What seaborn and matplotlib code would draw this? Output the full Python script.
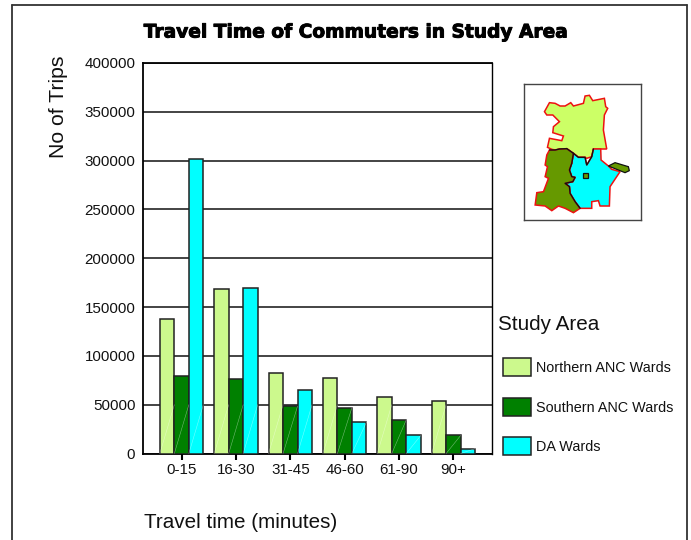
import matplotlib
matplotlib.use("Agg")
import matplotlib.pyplot as plt
import matplotlib.patheffects as pe
from matplotlib.patches import Polygon, Rectangle
import pandas as pd
import seaborn as sns

categories = ["0-15", "16-30", "31-45", "46-60", "61-90", "90+"]
northern = [138000, 168000, 82000, 77500, 58000, 54000]
southern = [79000, 76000, 48500, 47000, 34500, 18500]
da_wards = [302000, 170000, 65000, 32000, 18500, 5000]
series_names = ["Northern ANC Wards", "Southern ANC Wards", "DA Wards"]
series_colors = ["#CCF98D", "#008000", "#00FFFF"]

map_north = [(103,125),(118,98),(135,100),(150,108),(165,108),(182,98),(190,108),(220,100),(225,78),(238,76),(248,92),(283,85),(287,110),(293,115),(283,135),(280,180),(290,237),(250,237),(245,260),(230,265),(225,262),(205,262),(190,250),(170,236),(148,238),(135,240),(125,238),(112,232),(118,205),(155,212),(160,198),(128,188),(130,170),(148,155),(128,135),(110,135)]
map_south = [(110,255),(118,240),(135,240),(148,237),(170,236),(190,250),(185,280),(178,300),(185,320),(195,322),(188,335),(165,340),(178,350),(180,370),(195,395),(210,415),(190,428),(165,415),(145,408),(125,422),(105,408),(75,405),(80,368),(100,365),(115,325),(105,320),(112,290),(105,285)]
map_da = [(190,250),(205,262),(225,262),(230,285),(245,260),(250,237),(272,237),(273,270),(295,288),(305,298),(330,305),(300,350),(298,408),(270,408),(265,392),(245,395),(245,415),(210,415),(195,395),(180,370),(178,350),(165,340),(188,335),(195,322),(185,320),(178,300),(185,280)]
map_east = [(295,288),(315,278),(355,290),(358,302),(345,308),(325,300)]
map_island = [(218,308),(234,308),(234,323),(218,323)]
map_divide = [(118,240),(135,240),(148,237),(170,236),(190,250),(185,280),(178,300),(185,320),(195,322),(188,335),(165,340),(178,350),(180,370),(195,395),(210,415)]
map_divide2 = [(190,250),(205,262),(225,262),(230,285),(245,260),(250,237)]

sns.set_theme(style="white")
plt.rcParams["font.family"] = ["Liberation Sans", "DejaVu Sans"]
W, H = 691, 540
fig = plt.figure(figsize=(W / 100, H / 100), dpi=100, facecolor="white")

def rect(x0, ytop, x1, ybot):
    return [x0 / W, 1 - ybot / H, (x1 - x0) / W, (ybot - ytop) / H]

ax = fig.add_axes(rect(143, 63, 492, 453.5))
df = pd.DataFrame({"Time": categories * 3,
                   "Area": sum([[n] * len(categories) for n in series_names], []),
                   "Trips": northern + southern + da_wards})
sns.barplot(data=df, x="Time", y="Trips", hue="Area", hue_order=series_names,
            palette=series_colors, saturation=1, width=0.8, gap=0, dodge=True,
            edgecolor="#222222", linewidth=1.1, ax=ax, zorder=3, legend=False)
for p in ax.patches:
    if p.get_height() > 0:
        x, w, h = p.get_x(), p.get_width(), p.get_height()
        ax.plot([x, x + w], [0, min(h, 50000)], color="white", lw=0.4, alpha=0.45, zorder=4)

ax.set_xlim(-0.71, 5.71)
ax.set_ylim(0, 400000)
ax.set_yticks(range(0, 400001, 50000))
ax.grid(axis="y", color="#111111", lw=1.1, zorder=0)
ax.set_axisbelow(True)
ax.set_xlabel("")
ax.set_ylabel("")
for s in ax.spines.values():
    s.set_visible(True)
    s.set_color("black")
    s.set_linewidth(1.3)
ax.spines["right"].set_linewidth(1.0)
ax.tick_params(axis="x", bottom=True, length=4, width=1.5, color="black", labelsize=10.9, pad=3, labelcolor="#111111")
ax.tick_params(axis="y", left=False, length=0, labelsize=10.9, pad=5.5, labelcolor="#111111")

fig.text(356.5 / W, 1 - 32 / H, "Travel Time of Commuters in Study Area", ha="center", va="center",
         fontsize=13.4, fontweight="bold", color="black", family="DejaVu Sans",
         path_effects=[pe.withStroke(linewidth=0.7, foreground="black")])
fig.text(59 / W, 1 - 106.5 / H, "No of Trips", rotation=90, ha="center", va="center", fontsize=15.3, color="#111111")
fig.text(144 / W, 1 - 522 / H, "Travel time (minutes)", ha="left", va="center", fontsize=14.9, color="#111111")
fig.text(497.5 / W, 1 - 324 / H, "Study Area", ha="left", va="center", fontsize=14.9, color="#111111")

ypos = [367, 407, 446]
for name, col, y in zip(series_names, series_colors, ypos):
    fig.add_artist(Rectangle((503 / W, 1 - (y + 9) / H), 28 / W, 18 / H, transform=fig.transFigure,
                             facecolor=col, edgecolor="#222222", lw=1.1))
    fig.text(535.5 / W, 1 - (y + 1) / H, name, ha="left", va="center", fontsize=10.4, color="#111111")

# page frame, open at the bottom
for xs, ys in [([12, 12], [540, 5]), ([12, 686.5], [5, 5]), ([686.5, 686.5], [5, 540])]:
    fig.add_artist(plt.Line2D([x / W for x in xs], [1 - y / H for y in ys], color="#333333", lw=1.3))

# locator map inset
m = fig.add_axes(rect(523.5, 84, 641, 220))
m.set_xlim(40, 393)
m.set_ylim(450, 42)
m.set_xticks([])
m.set_yticks([])
for s in m.spines.values():
    s.set_visible(True)
    s.set_color("#444444")
    s.set_linewidth(1.0)
m.add_patch(Polygon(map_north, closed=True, fc="#CCFF66", ec="#EE1111", lw=1.1, zorder=2))
m.add_patch(Polygon(map_da, closed=True, fc="#00FFFF", ec="#EE1111", lw=1.1, zorder=2))
m.add_patch(Polygon(map_south, closed=True, fc="#669900", ec="#EE1111", lw=1.1, zorder=3))
m.add_patch(Polygon(map_east, closed=True, fc="#669900", ec="#111111", lw=0.9, zorder=3))
m.add_patch(Polygon(map_island, closed=True, fc="#669900", ec="#111111", lw=0.9, zorder=3))
m.plot(*zip(*map_divide), color="#111111", lw=1.0, zorder=4)
m.plot(*zip(*map_divide2), color="#111111", lw=1.0, zorder=4)

fig.savefig("out.png", dpi=100, facecolor="white")
